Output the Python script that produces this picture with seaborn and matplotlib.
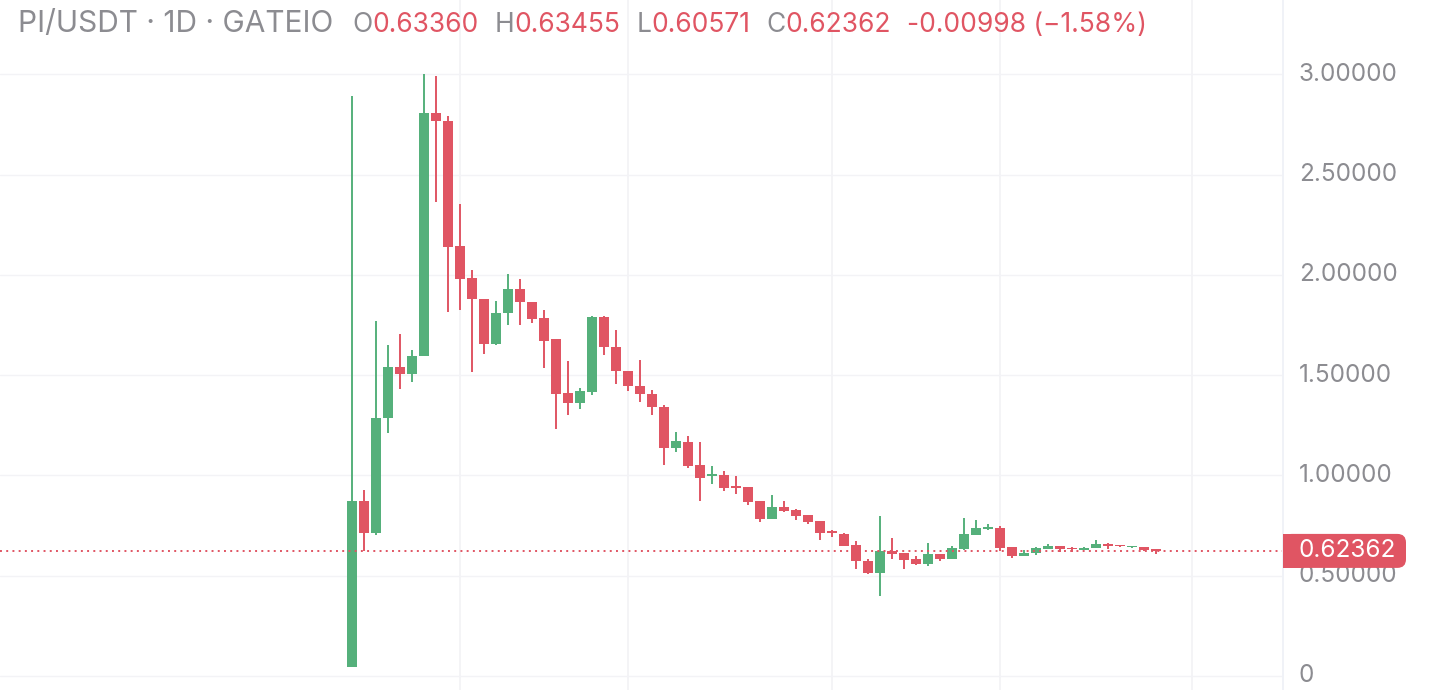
import numpy as np
import pandas as pd
import matplotlib
matplotlib.use("Agg")
import matplotlib.pyplot as plt
from matplotlib.patches import FancyBboxPatch, Rectangle
import seaborn as sns

# ---------------- data ----------------
start_date = "2025-02-20"
opens = [0.045, 0.873, 0.711, 1.285, 1.542, 1.504, 1.593, 2.809, 2.769, 2.142,
         1.982, 1.877, 1.654, 1.808, 1.930, 1.865, 1.785, 1.680, 1.410, 1.362,
         1.417, 1.790, 1.642, 1.521, 1.447, 1.408, 1.343, 1.137, 1.165, 1.051,
         0.996, 1.001, 0.945, 0.940, 0.871, 0.783, 0.841, 0.826, 0.801, 0.772,
         0.724, 0.707, 0.652, 0.573, 0.515, 0.623, 0.613, 0.583, 0.560, 0.608,
         0.585, 0.635, 0.704, 0.734, 0.738, 0.642, 0.598, 0.613, 0.631, 0.650,
         0.640, 0.626, 0.636, 0.659, 0.654, 0.641, 0.645, 0.63360]
highs = [2.890, 0.928, 1.770, 1.652, 1.703, 1.626, 3.000, 2.990, 2.793, 2.355,
         2.025, 1.880, 1.867, 2.005, 1.980, 1.865, 1.825, 1.680, 1.572, 1.437,
         1.795, 1.795, 1.727, 1.521, 1.576, 1.427, 1.353, 1.215, 1.195, 1.165,
         1.046, 1.020, 0.995, 0.940, 0.871, 0.901, 0.871, 0.831, 0.805, 0.772,
         0.728, 0.712, 0.672, 0.583, 0.797, 0.688, 0.613, 0.596, 0.663, 0.608,
         0.648, 0.787, 0.777, 0.757, 0.748, 0.642, 0.630, 0.641, 0.659, 0.650,
         0.645, 0.645, 0.679, 0.664, 0.654, 0.650, 0.645, 0.63455]
lows = [0.045, 0.622, 0.705, 1.210, 1.429, 1.465, 1.593, 2.363, 1.814, 1.826,
        1.514, 1.603, 1.648, 1.752, 1.752, 1.762, 1.537, 1.232, 1.302, 1.332,
        1.402, 1.602, 1.456, 1.419, 1.365, 1.300, 1.053, 1.117, 1.038, 0.873,
        0.958, 0.921, 0.907, 0.853, 0.768, 0.783, 0.818, 0.778, 0.758, 0.680,
        0.692, 0.649, 0.535, 0.510, 0.400, 0.585, 0.535, 0.555, 0.550, 0.575,
        0.585, 0.626, 0.704, 0.729, 0.623, 0.588, 0.598, 0.603, 0.631, 0.620,
        0.620, 0.626, 0.636, 0.631, 0.641, 0.636, 0.621, 0.60571]
closes = [0.873, 0.711, 1.287, 1.542, 1.504, 1.597, 2.809, 2.767, 2.138, 1.978,
          1.879, 1.654, 1.812, 1.930, 1.862, 1.782, 1.672, 1.407, 1.362, 1.420,
          1.790, 1.642, 1.520, 1.444, 1.404, 1.340, 1.139, 1.170, 1.048, 0.988,
          1.006, 0.938, 0.937, 0.868, 0.783, 0.841, 0.825, 0.796, 0.768, 0.714,
          0.714, 0.649, 0.571, 0.515, 0.623, 0.610, 0.580, 0.558, 0.608, 0.585,
          0.638, 0.708, 0.738, 0.742, 0.640, 0.598, 0.615, 0.636, 0.650, 0.631,
          0.631, 0.640, 0.659, 0.646, 0.646, 0.650, 0.626, 0.62362]
ytick_values = [0, 0.5, 1.0, 1.5, 2.0, 2.5, 3.0]
ytick_labels = ["0", "0.50000", "1.00000", "1.50000", "2.00000", "2.50000", "3.00000"]
title_parts = [("PI/USDT · 1D · GATEIO", "gray", 19, 21.5),
               ("O", "gray", 0, 19), ("0.63360", "red", 16, 19),
               ("H", "gray", 0, 19), ("0.63455", "red", 16, 19),
               ("L", "gray", 0, 19), ("0.60571", "red", 16, 19),
               ("C", "gray", 0, 19), ("0.62362", "red", 16, 19),
               ("-0.00998 (\u22121.58%)", "red", 0, 19)]
last_price = 0.62362
last_label = "0.62362"

# ---------------- style ----------------
sns.set_theme(style="white")
FONT = ["Inter", "DejaVu Sans"]
plt.rcParams["font.family"] = FONT

GREEN = "#55b07b"
RED = "#e05563"
GRAY = "#8c8c91"
GRID = "#f3f3f6"

W, H = 1442, 690
fig = plt.figure(figsize=(W / 100, H / 100), dpi=100)
fig.patch.set_facecolor("white")
axw = 1282 / W
ax = fig.add_axes([0, 0, axw, 1])
ax.set_facecolor("white")

df = pd.DataFrame({"open": opens, "high": highs, "low": lows, "close": closes})
df["date"] = pd.date_range(start_date, periods=len(df), freq="D")
df["x"] = np.arange(len(df))
df["up"] = df["close"] >= df["open"]
df["color"] = np.where(df["up"], GREEN, RED)

# grid
for v in ytick_values:
    ax.axhline(v, color=GRID, lw=1.0, zorder=0)
month_marks = pd.date_range(start_date, "2025-05-31", freq="D")
month_marks = [d for d in month_marks if d.day in (1, 15)]
for d in month_marks:
    xpos = (d - df["date"].iloc[0]).days
    ax.axvline(xpos, color=GRID, lw=1.3, zorder=0)

# wicks
ax.vlines(df["x"], df["low"], df["high"], colors=df["color"], lw=1.4, zorder=2)
# bodies
body_h = (df["close"] - df["open"]).abs().clip(lower=0.006)
body_b = np.minimum(df["open"], df["close"])
ax.bar(df["x"], body_h, bottom=body_b, width=0.83, color=df["color"],
       edgecolor="none", zorder=3)

# last price dotted line
ax.axhline(last_price, color=RED, lw=1.4, linestyle=(0, (1.0, 2.2)), zorder=4)

ax.set_xlim((0 - 352) / 12, (1282 - 352) / 12)
ax.set_ylim((676 - 690) / 200.6, 676 / 200.6)
ax.set_xticks([])
ax.set_yticks([])
sns.despine(ax=ax, left=True, bottom=True, top=True, right=True)

# right axis separator
fig.add_artist(plt.Line2D([1282.5 / W, 1282.5 / W], [0, 1], color="#eef0f6",
                          lw=1.2, transform=fig.transFigure))

# y tick labels on right
for v, lab in zip(ytick_values, ytick_labels):
    py = 676 - v * 200.6
    fig.text(1299 / W, 1 - py / H, lab, color=GRAY, fontsize=17.5,
             ha="left", va="center", family=FONT)

# last price box
py = 676 - last_price * 200.6
bh = 34
box = FancyBboxPatch((1283 / W, 1 - (py + bh / 2) / H), 123 / W, bh / H,
                     boxstyle="round,pad=0,rounding_size=0.006",
                     transform=fig.transFigure, facecolor=RED, edgecolor="none",
                     mutation_aspect=W / H, zorder=5)
fig.add_artist(box)
fig.add_artist(Rectangle((1283 / W, 1 - (py + bh / 2) / H), 20 / W, bh / H,
                         transform=fig.transFigure, facecolor=RED,
                         edgecolor="none", zorder=5))
fig.text(1299 / W, 1 - py / H, last_label, color="white", fontsize=17.5,
         ha="left", va="center", family=FONT, zorder=6)

# title line
fig.canvas.draw()
renderer = fig.canvas.get_renderer()
xcur = 18
for txt, col, gap, fs in title_parts:
    t = fig.text(xcur / W, 1 - 32 / H, txt, color=GRAY if col == "gray" else RED,
                 fontsize=fs, ha="left", va="baseline", family=FONT)
    bb = t.get_window_extent(renderer=renderer)
    xcur = bb.x1 + gap

fig.savefig("out.png", dpi=100, facecolor="white")
